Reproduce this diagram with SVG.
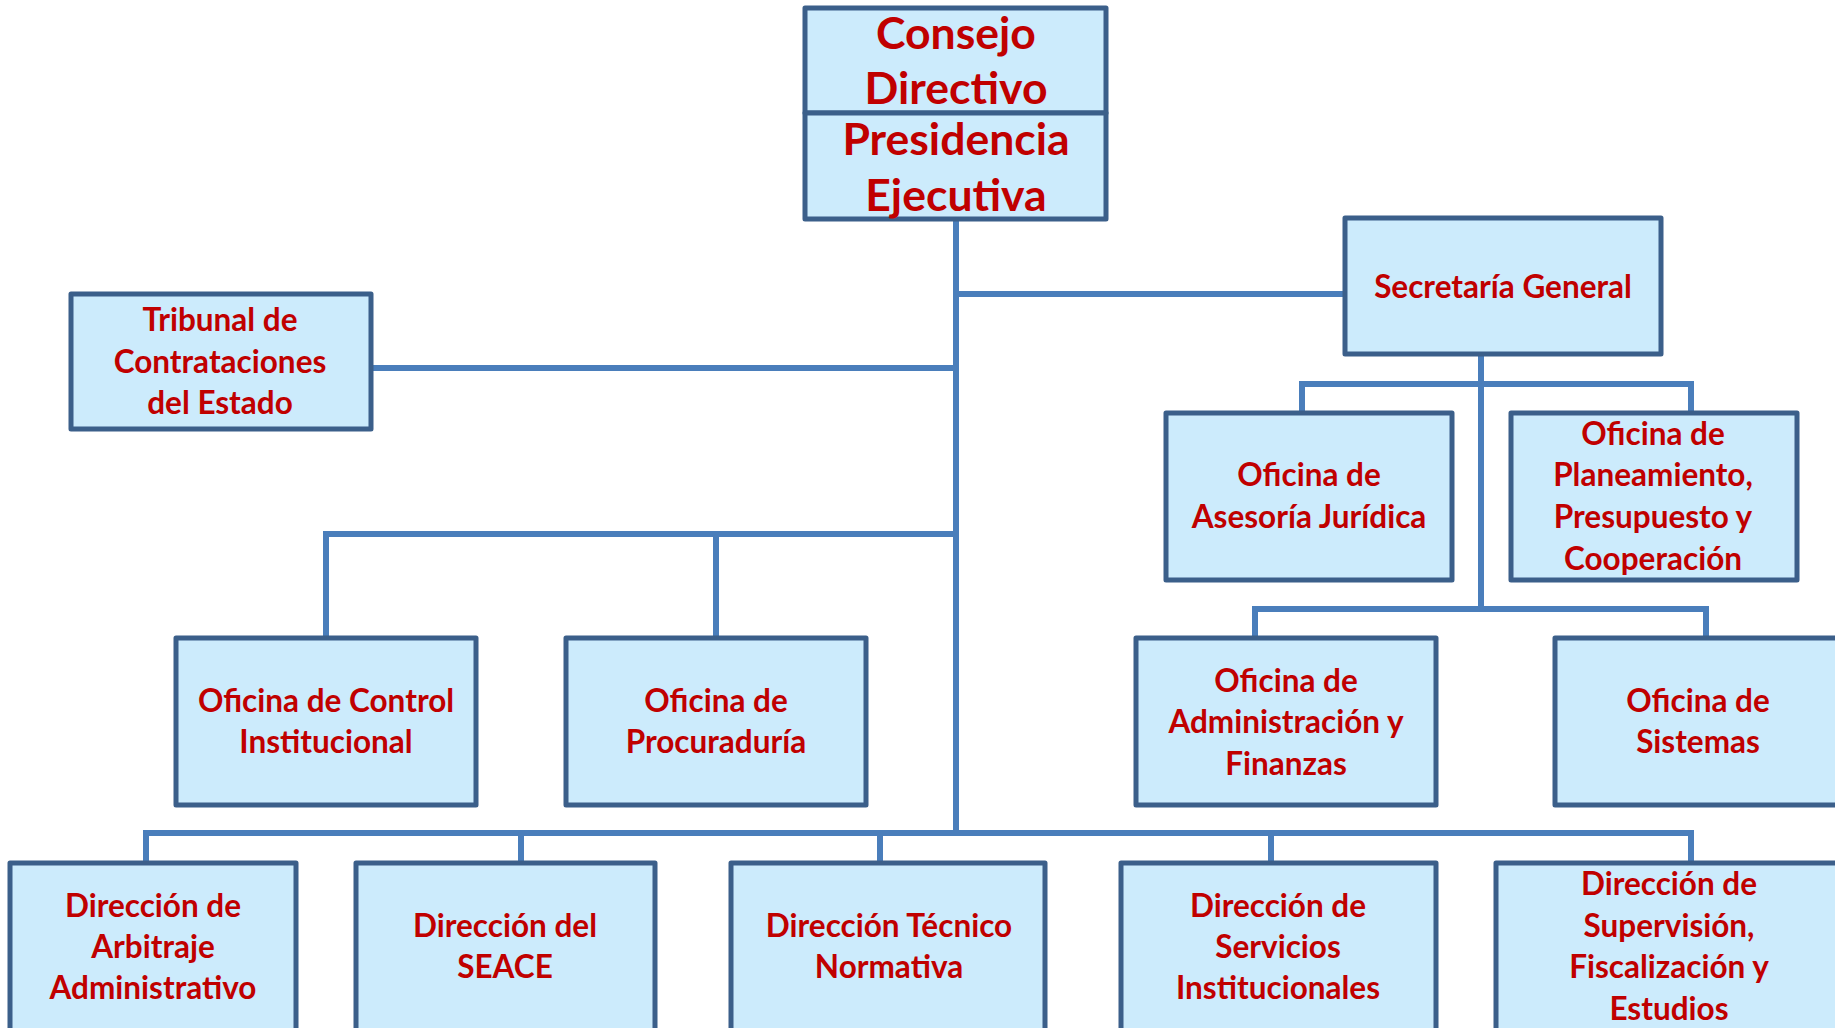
<svg xmlns="http://www.w3.org/2000/svg" width="1835" height="1028" viewBox="0 0 1835 1028">
<style>
.box{fill:#CCEBFC;stroke:#3B5F8A;stroke-width:5;stroke-linejoin:round}
.t{font-family:Lato,"Liberation Sans",sans-serif;font-weight:700;font-size:31.5px;fill:#C00000;text-anchor:middle}
.big{font-size:44.5px}
.c{stroke:#4A7EBB;stroke-width:6;fill:none}
</style>
<rect width="1835" height="1028" fill="#FFFFFF"/>
<g id="connectors">
<path class="c" d="M956 219V833"/>
<path class="c" d="M371 368H956"/>
<path class="c" d="M326 638V534H956M716 534V638"/>
<path class="c" d="M956 294H1345"/>
<path class="c" d="M1481 354V609"/>
<path class="c" d="M1302 413V384H1691V413"/>
<path class="c" d="M1255 638V609H1706V638"/>
<path class="c" d="M146 863V833H1691V863M521 833V863M880 833V863M1271 833V863"/>
</g>
<g id="consejo">
<rect class="box" x="805" y="8" width="301" height="105"/>
<text class="t big" x="956" y="49">Consejo</text>
<text class="t big" x="956" y="104">Directivo</text>
</g>
<g id="presidencia">
<rect class="box" x="805" y="113" width="301" height="106"/>
<text class="t big" x="956" y="155">Presidencia</text>
<text class="t big" x="956" y="211">Ejecutiva</text>
</g>
<g id="tribunal">
<rect class="box" x="71" y="294" width="300" height="135"/>
<text class="t" x="220" y="331">Tribunal de</text>
<text class="t" x="220" y="373">Contrataciones</text>
<text class="t" x="220" y="414">del Estado</text>
</g>
<g id="secretaria">
<rect class="box" x="1345" y="218" width="316" height="136"/>
<text class="t" x="1503" y="298">Secretaría General</text>
</g>
<g id="asesoria">
<rect class="box" x="1166" y="413" width="286" height="167"/>
<text class="t" x="1309" y="486">Oficina de</text>
<text class="t" x="1309" y="528">Asesoría Jurídica</text>
</g>
<g id="planeamiento">
<rect class="box" x="1511" y="413" width="286" height="167"/>
<text class="t" x="1653" y="445">Oficina de</text>
<text class="t" x="1653" y="486">Planeamiento,</text>
<text class="t" x="1653" y="528">Presupuesto y</text>
<text class="t" x="1653" y="570">Cooperación</text>
</g>
<g id="control">
<rect class="box" x="176" y="638" width="300" height="167"/>
<text class="t" x="326" y="712">Oficina de Control</text>
<text class="t" x="326" y="753">Institucional</text>
</g>
<g id="procuraduria">
<rect class="box" x="566" y="638" width="300" height="167"/>
<text class="t" x="716" y="712">Oficina de</text>
<text class="t" x="716" y="753">Procuraduría</text>
</g>
<g id="administracion">
<rect class="box" x="1136" y="638" width="300" height="167"/>
<text class="t" x="1286" y="692">Oficina de</text>
<text class="t" x="1286" y="733">Administración y</text>
<text class="t" x="1286" y="775">Finanzas</text>
</g>
<g id="sistemas">
<rect class="box" x="1555" y="638" width="300" height="167"/>
<text class="t" x="1698" y="712">Oficina de</text>
<text class="t" x="1698" y="753">Sistemas</text>
</g>
<g id="arbitraje">
<rect class="box" x="10" y="863" width="286" height="180"/>
<text class="t" x="153" y="917">Dirección de</text>
<text class="t" x="153" y="958">Arbitraje</text>
<text class="t" x="153" y="999">Administrativo</text>
</g>
<g id="seace">
<rect class="box" x="356" y="863" width="299" height="180"/>
<text class="t" x="505" y="937">Dirección del</text>
<text class="t" x="505" y="978">SEACE</text>
</g>
<g id="normativa">
<rect class="box" x="731" y="863" width="314" height="180"/>
<text class="t" x="889" y="937">Dirección Técnico</text>
<text class="t" x="889" y="978">Normativa</text>
</g>
<g id="servicios">
<rect class="box" x="1121" y="863" width="315" height="180"/>
<text class="t" x="1278" y="917">Dirección de</text>
<text class="t" x="1278" y="958">Servicios</text>
<text class="t" x="1278" y="999">Institucionales</text>
</g>
<g id="supervision">
<rect class="box" x="1496" y="863" width="348" height="180"/>
<text class="t" x="1669" y="895">Dirección de</text>
<text class="t" x="1669" y="937">Supervisión,</text>
<text class="t" x="1669" y="978">Fiscalización y</text>
<text class="t" x="1669" y="1020">Estudios</text>
</g>
</svg>
